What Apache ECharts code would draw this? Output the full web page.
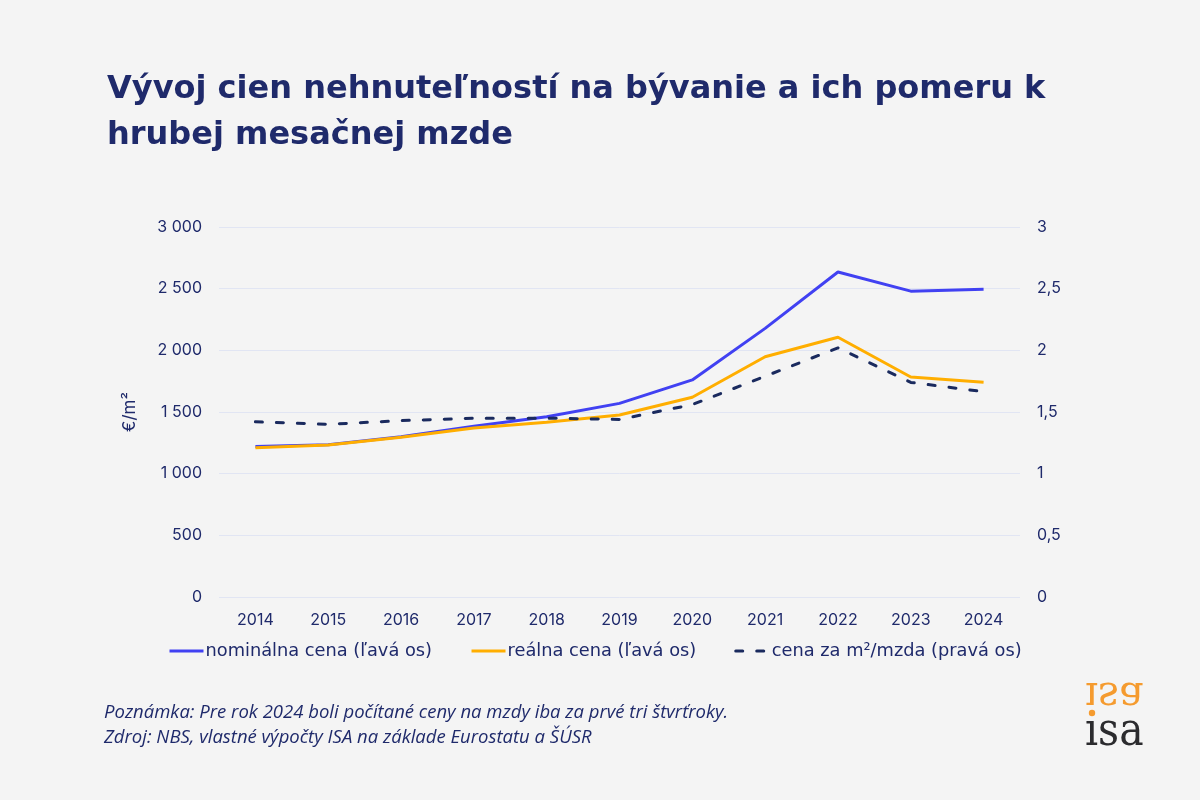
<!DOCTYPE html>
<html>
<head>
<meta charset="utf-8">
<script src="https://cdn.jsdelivr.net/npm/echarts@6/dist/echarts.min.js"></script>
<style>
html,body{margin:0;padding:0;background:#f4f4f4;}
#c{width:1200px;height:800px;}
</style>
</head>
<body>
<div id="c"></div>
<script>
const years = ['2014','2015','2016','2017','2018','2019','2020','2021','2022','2023','2024'];
const nominal = [1220, 1235, 1300, 1385, 1462, 1570, 1760, 2178, 2635, 2480, 2495];
const real = [1210, 1232, 1295, 1370, 1416, 1476, 1620, 1948, 2106, 1784, 1741];
const ratio = [1.42, 1.40, 1.43, 1.45, 1.45, 1.44, 1.56, 1.79, 2.02, 1.74, 1.665];
const seriesNames = ['nominálna cena (ľavá os)', 'reálna cena (ľavá os)', 'cena za m²/mzda (pravá os)'];
const titleText = 'Vývoj cien nehnuteľností na bývanie a ich pomeru k\nhrubej mesačnej mzde';
const noteText = 'Poznámka: Pre rok 2024 boli počítané ceny na mzdy iba za prvé tri štvrťroky.\nZdroj: NBS, vlastné výpočty ISA na základe Eurostatu a ŠÚSR';
const logoText = 'ısa';

const navy = '#1f2a6b';
const font = 'Inter';
const chart = echarts.init(document.getElementById('c'));
chart.setOption({
  backgroundColor: '#f4f4f4',
  animation: false,
  title: {
    text: titleText,
    left: 102, top: 62,
    textStyle: {fontFamily: 'DejaVu Sans', fontWeight: 700, fontSize: 32, color: navy, lineHeight: 46}
  },
  grid: {left: 219, right: 180, top: 227, bottom: 203, containLabel: false},
  legend: {
    left: 168, top: 642, padding: 0,
    itemWidth: 34, itemHeight: 14, itemGap: 38,
    itemStyle: {opacity: 0},
    lineStyle: {width: 3},
    textStyle: {fontFamily: 'DejaVu Sans', fontSize: 17.8, color: navy, padding: [0,0,0,-3]},
    data: seriesNames
  },
  xAxis: {
    type: 'category', data: years, boundaryGap: true,
    axisLine: {show: false}, axisTick: {show: false},
    axisLabel: {fontFamily: font, fontSize: 16, color: navy, margin: 15}
  },
  yAxis: [{
    type: 'value', min: 0, max: 3000, interval: 500,
    name: '€/m²', nameLocation: 'middle', nameGap: 81, nameRotate: 90,
    nameTextStyle: {fontFamily: font, fontSize: 17, color: navy},
    axisLine: {show: false}, axisTick: {show: false},
    splitLine: {lineStyle: {color: '#e1e5f3', width: 1}},
    axisLabel: {fontFamily: font, fontSize: 16, color: navy, margin: 17,
      formatter: v => String(v).replace(/\B(?=(\d{3})+(?!\d))/g, ' ')}
  }, {
    type: 'value', min: 0, max: 3, interval: 0.5,
    axisLine: {show: false}, axisTick: {show: false}, splitLine: {show: false},
    axisLabel: {fontFamily: font, fontSize: 16, color: navy, margin: 17,
      formatter: v => String(v).replace('.', ',')}
  }],
  series: [{
    name: seriesNames[0], type: 'line', data: nominal, yAxisIndex: 0,
    symbol: 'none', lineStyle: {color: '#4141f2', width: 3}, itemStyle: {color: '#4141f2'}
  }, {
    name: seriesNames[1], type: 'line', data: real, yAxisIndex: 0,
    symbol: 'none', lineStyle: {color: '#ffae00', width: 3}, itemStyle: {color: '#ffae00'}
  }, {
    name: seriesNames[2], type: 'line', data: ratio, yAxisIndex: 1,
    symbol: 'none', lineStyle: {color: '#1a2a5e', width: 3, type: [7, 14], cap: 'round'}, itemStyle: {color: '#1a2a5e'}
  }],
  graphic: [{
    type: 'text', left: 104, top: 700,
    style: {text: noteText, fontFamily: 'Open Sans', fontStyle: 'italic', fontSize: 18.5, lineHeight: 25, fill: navy}
  }, {
    type: 'text', x: 1085, y: 679, scaleY: -1.05, originX: 0, originY: 0,
    style: {text: logoText, x: 0, y: -14, fontFamily: 'DejaVu Serif', fontSize: 41, fill: '#f59b2f', verticalAlign: 'middle'}
  }, {
    type: 'text', x: 1085, y: 749, scaleY: 1.15, originX: 0, originY: 0,
    style: {text: logoText, x: 0, y: -14, fontFamily: 'DejaVu Serif', fontSize: 41, fill: '#2b2b2e', verticalAlign: 'middle'}
  }, {
    type: 'circle', shape: {cx: 1092, cy: 713, r: 3.2}, style: {fill: '#f59b2f'}
  }]
});
</script>
</body>
</html>
